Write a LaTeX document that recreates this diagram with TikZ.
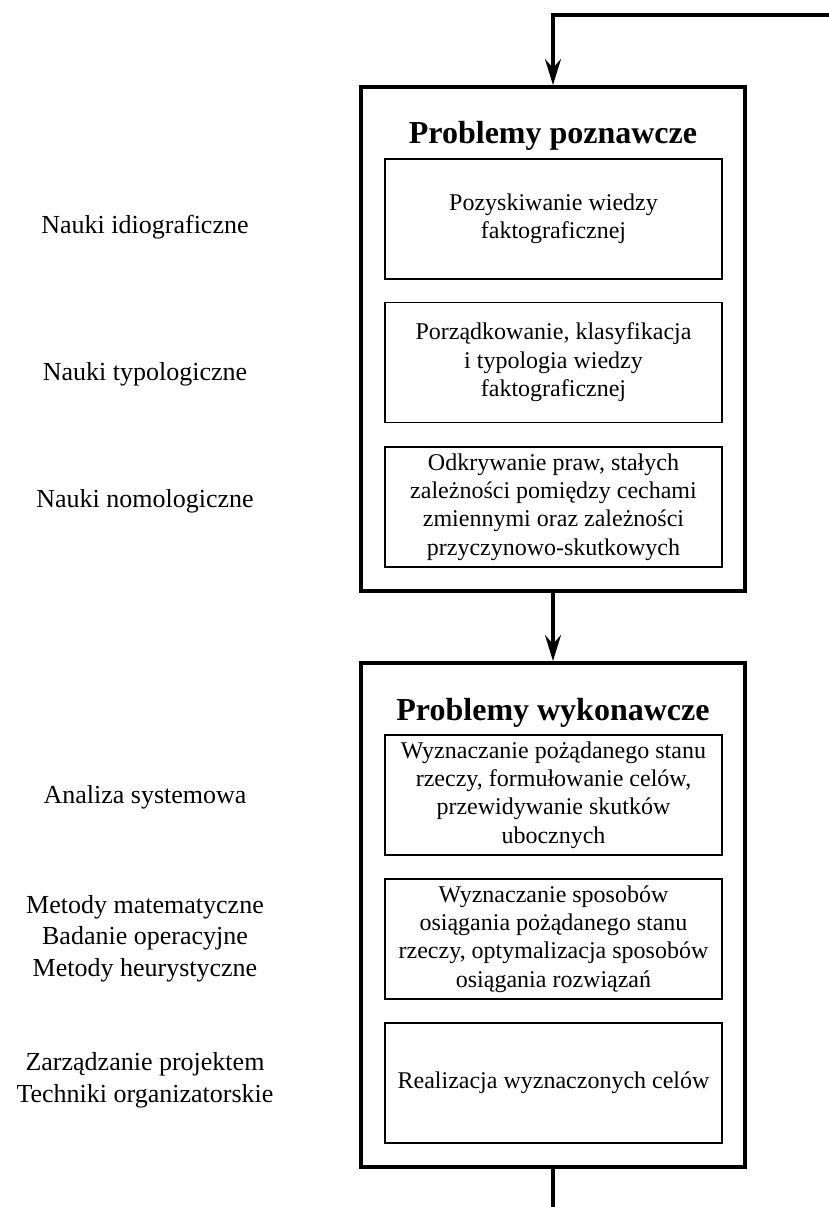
\documentclass[tikz,border=0pt]{standalone}
\usepackage{fontspec}
\setmainfont{Liberation Serif}
\usetikzlibrary{arrows.meta}
\tikzset{
  outerbox/.style={draw, line width=4pt, minimum width=384pt, minimum height=504pt, inner sep=0pt},
  innerbox/.style={draw, line width=1.4pt, minimum width=337pt, minimum height=120pt, inner sep=0pt, align=center, font=\fontsize{24}{28.4}\selectfont},
  titletext/.style={anchor=base, inner sep=0pt, font=\bfseries\fontsize{32}{38}\selectfont},
  sidelabel/.style={anchor=base, inner sep=0pt, align=center, font=\fontsize{26}{31.5}\selectfont},
  flow/.style={line width=3.5pt, -{Stealth[length=26pt, width=16pt, inset=9pt]}},
  plainflow/.style={line width=3.5pt}
}
\begin{document}
\begin{tikzpicture}[x=1pt,y=-1pt]
\useasboundingbox (0,0) rectangle (829,1207);
% outer boxes
\node[outerbox] (outA) at (553,339) {};
\node[outerbox] (outB) at (553,915) {};
% titles
\node[titletext] (tA) at (553,143) {Problemy poznawcze};
\node[titletext] (tB) at (553,720) {Problemy wykonawcze};
% inner boxes
\node[innerbox] (a1) at (553.5,219) {Pozyskiwanie wiedzy\\faktograficznej};
\node[innerbox] (a2) at (553.5,362.5) {Porządkowanie, klasyfikacja\\i typologia wiedzy\\faktograficznej};
\node[innerbox] (a3) at (553.5,507) {Odkrywanie praw, stałych\\zależności pomiędzy cechami\\zmiennymi oraz zależności\\przyczynowo-skutkowych};
\node[innerbox] (b1) at (553.5,795) {Wyznaczanie pożądanego stanu\\rzeczy, formułowanie celów,\\przewidywanie skutków\\ubocznych};
\node[innerbox] (b2) at (553.5,939) {Wyznaczanie sposobów\\osiągania pożądanego stanu\\rzeczy, optymalizacja sposobów\\osiągania rozwiązań};
\node[innerbox] (b3) at (553.5,1083) {Realizacja wyznaczonych celów};
% side labels (base anchor = baseline of the last line)
\node[sidelabel] (l1) at (145,233) {Nauki idiograficzne};
\node[sidelabel] (l2) at (145,380) {Nauki typologiczne};
\node[sidelabel] (l3) at (145,507) {Nauki nomologiczne};
\node[sidelabel] (l4) at (145,803) {Analiza systemowa};
\node[sidelabel] (l5) at (145,976) {Metody matematyczne\\Badanie operacyjne\\Metody heurystyczne};
\node[sidelabel] (l6) at (145,1102) {Zarządzanie projektem\\Techniki organizatorskie};
% connectors
\coordinate (topright) at (829,15);
\coordinate (botend) at (553,1207);
\draw[flow] (topright) -| (outA.north);
\draw[flow] (outA.south) -- (outB.north);
\draw[plainflow] (outB.south) -- (botend);
\end{tikzpicture}
\end{document}
